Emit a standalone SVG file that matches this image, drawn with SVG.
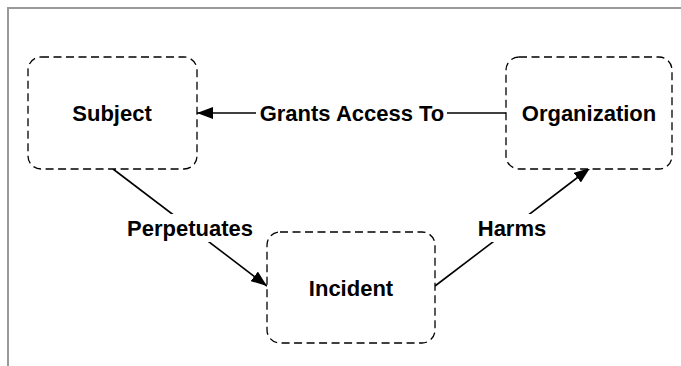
<svg xmlns="http://www.w3.org/2000/svg" width="681" height="366" viewBox="0 0 681 366">
<style>
.node rect{fill:#fff;stroke:#000;stroke-width:1.3;stroke-dasharray:8,4.5}
.lbl{font-family:"Liberation Sans",Arial,sans-serif;font-weight:bold;font-size:22px;fill:#000;text-anchor:middle}
.edge{stroke:#000;stroke-width:1.6;fill:none}
.frame{stroke:#999;stroke-width:2;fill:none}
</style>
<defs>
<marker id="arr" viewBox="0 0 16 12" refX="16" refY="6" markerWidth="16" markerHeight="12" markerUnits="userSpaceOnUse" orient="auto">
<path d="M0,0 L16,6 L0,12 Z" fill="#000"/>
</marker>
</defs>
<path class="frame" d="M8,366 L8,8 L681,8"/>
<g id="connectors">
<line class="edge" x1="506" y1="113" x2="197" y2="113" marker-end="url(#arr)"/>
<line class="edge" x1="113" y1="169" x2="267" y2="286" marker-end="url(#arr)"/>
<line class="edge" x1="435" y1="286" x2="590" y2="168" marker-end="url(#arr)"/>
<rect x="256" y="100" width="191" height="27" fill="#fff"/>
<text class="lbl" x="352" y="121">Grants Access To</text>
<rect x="121" y="214" width="138" height="28" fill="#fff"/>
<text class="lbl" x="190" y="236">Perpetuates</text>
<rect x="474" y="214" width="76" height="28" fill="#fff"/>
<text class="lbl" x="512" y="236">Harms</text>
</g>
<g id="subject" class="node">
<rect x="28" y="57" width="169" height="112" rx="13"/>
<text class="lbl" x="112" y="121">Subject</text>
</g>
<g id="organization" class="node">
<rect x="506" y="57" width="166" height="112" rx="13"/>
<text class="lbl" x="589" y="121">Organization</text>
</g>
<g id="incident" class="node">
<rect x="267" y="232" width="168" height="111" rx="13"/>
<text class="lbl" x="351" y="296">Incident</text>
</g>
</svg>
